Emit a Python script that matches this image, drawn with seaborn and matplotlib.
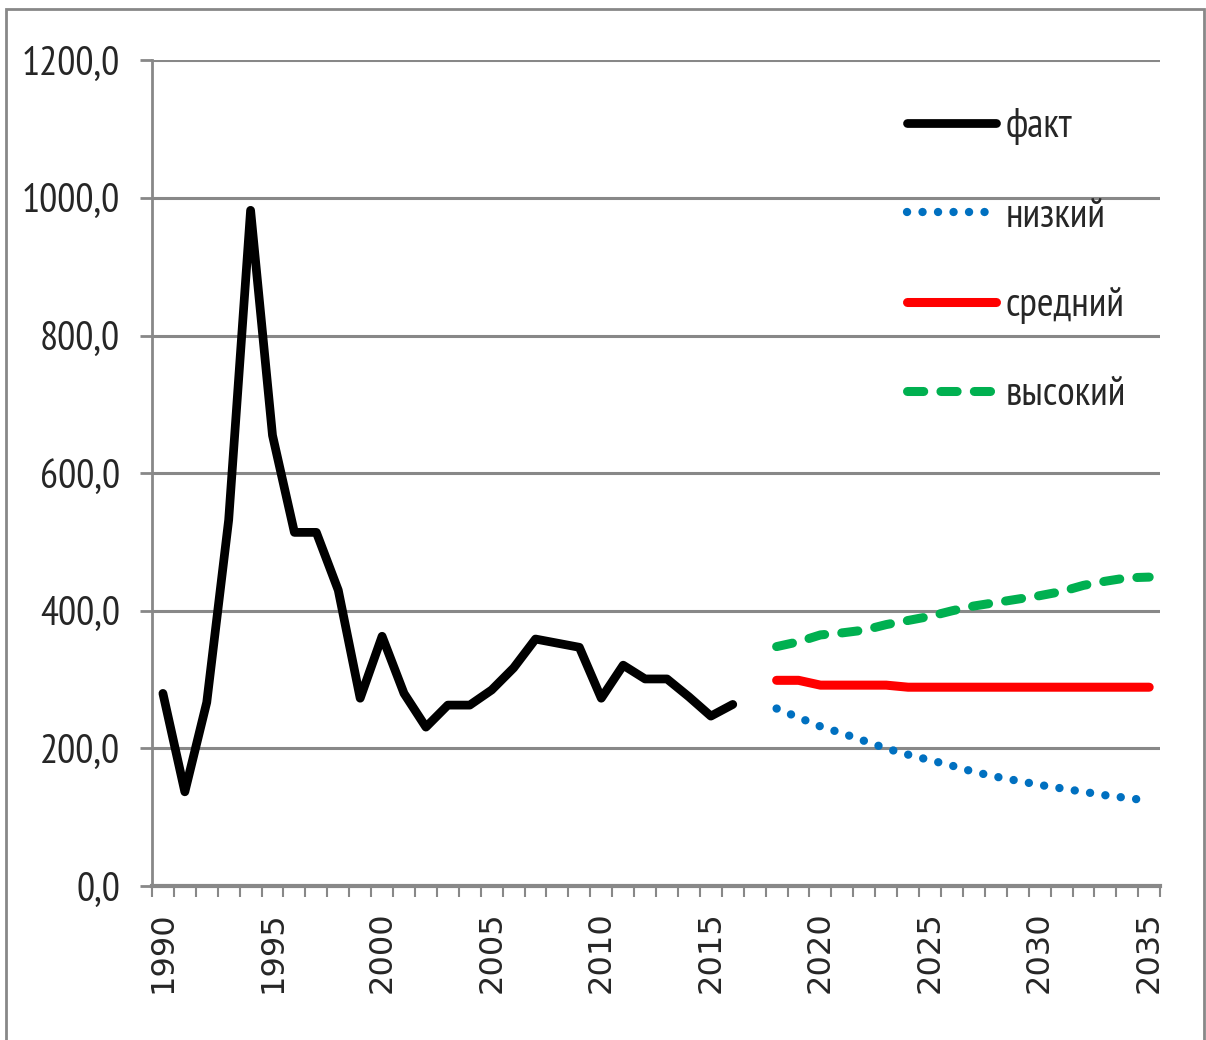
import numpy as np
import pandas as pd
import seaborn as sns
import matplotlib.pyplot as plt
from matplotlib.patches import Rectangle

# факт 1990-2016
fact_years = list(range(1990, 2017))
fact = [280, 137, 267, 532, 982, 655, 514, 514, 430, 273,
        363, 280, 231, 263, 263, 285, 317, 359, 353, 347,
        273, 321, 301, 301, 275, 247, 264]

# прогноз 2018-2035
fc_years = list(range(2018, 2036))
low = [258, 245, 232, 222, 211, 200, 191, 183, 175, 166,
       159, 153, 147, 142, 137, 132, 128, 124]
mid = [299, 299, 292, 292, 292, 292, 289, 289, 289, 289,
       289, 289, 289, 289, 289, 289, 289, 289]
high = [348, 355, 365, 368, 372, 380, 386, 392, 400, 407,
        412, 417, 422, 428, 437, 443, 448, 449]

labels = ['факт', 'низкий', 'средний', 'высокий']

sns.set_style('white')
plt.rcParams['font.family'] = ['PT Sans Narrow', 'DejaVu Sans']
plt.rcParams['font.weight'] = 'normal'

fig = plt.figure(figsize=(12.06, 10.4), dpi=100)
ax = fig.add_axes([0.126, 0.148, 0.836, 0.794])

df_fact = pd.DataFrame({'year': fact_years, 'val': fact})
df_fc = pd.DataFrame({'year': fc_years, 'low': low, 'mid': mid, 'high': high})

sns.lineplot(data=df_fact, x='year', y='val', ax=ax, color='black', lw=6.3,
             solid_joinstyle='round', solid_capstyle='round', label=labels[0])
sns.lineplot(data=df_fc, x='year', y='low', ax=ax, color='#0070c0', lw=6,
             dashes=False, label=labels[1])
ax.lines[-1].set_dashes([0.01, 1.85])
ax.lines[-1].set_dash_capstyle('round')
sns.lineplot(data=df_fc, x='year', y='mid', ax=ax, color='#ff0000', lw=6.5,
             solid_capstyle='round', label=labels[2])
sns.lineplot(data=df_fc, x='year', y='high', ax=ax, color='#00b050', lw=6.5,
             label=labels[3])
ax.lines[-1].set_dashes([1.8, 1.9])
ax.lines[-1].set_dash_capstyle('round')

ax.set_xlim(1989.5, 2035.5)
ax.set_ylim(0, 1200)
ax.set_xlabel('')
ax.set_ylabel('')

yt = np.arange(0, 1201, 200)
ax.set_yticks(yt)
ax.set_yticklabels([f'{v:.1f}'.replace('.', ',') for v in yt], fontsize=29)
ax.yaxis.grid(True, color='#888888', lw=2.2)
ax.tick_params(axis='y', length=9, width=2, color='#888888', pad=14, left=True)

xt = list(range(1990, 2036, 5))
ax.set_xticks(xt)
ax.set_xticklabels([str(v) for v in xt], rotation=90, fontsize=23,
                   family='DejaVu Sans')
ax.set_xticks(np.arange(1989.5, 2036, 1), minor=True)
ax.tick_params(axis='x', which='major', length=0, pad=18)
ax.tick_params(axis='x', which='minor', length=8, width=1.5, color='#888888',
               bottom=True)

for s in ['top', 'right']:
    ax.spines[s].set_visible(False)
ax.spines['left'].set_color('#888888')
ax.spines['left'].set_linewidth(2)
ax.spines['bottom'].set_color('#888888')
ax.spines['bottom'].set_linewidth(3)

leg = ax.legend(loc='upper left', bbox_to_anchor=(0.749, 0.942), frameon=False,
                fontsize=29, handlelength=2.2, handletextpad=0.25,
                labelspacing=1.3, borderpad=0, borderaxespad=0)

fig.patches.append(Rectangle((0.005, -0.01), 0.993, 1.0015, transform=fig.transFigure,
                             fill=False, edgecolor='#888888', lw=2))

fig.savefig('out.png', dpi=100)
